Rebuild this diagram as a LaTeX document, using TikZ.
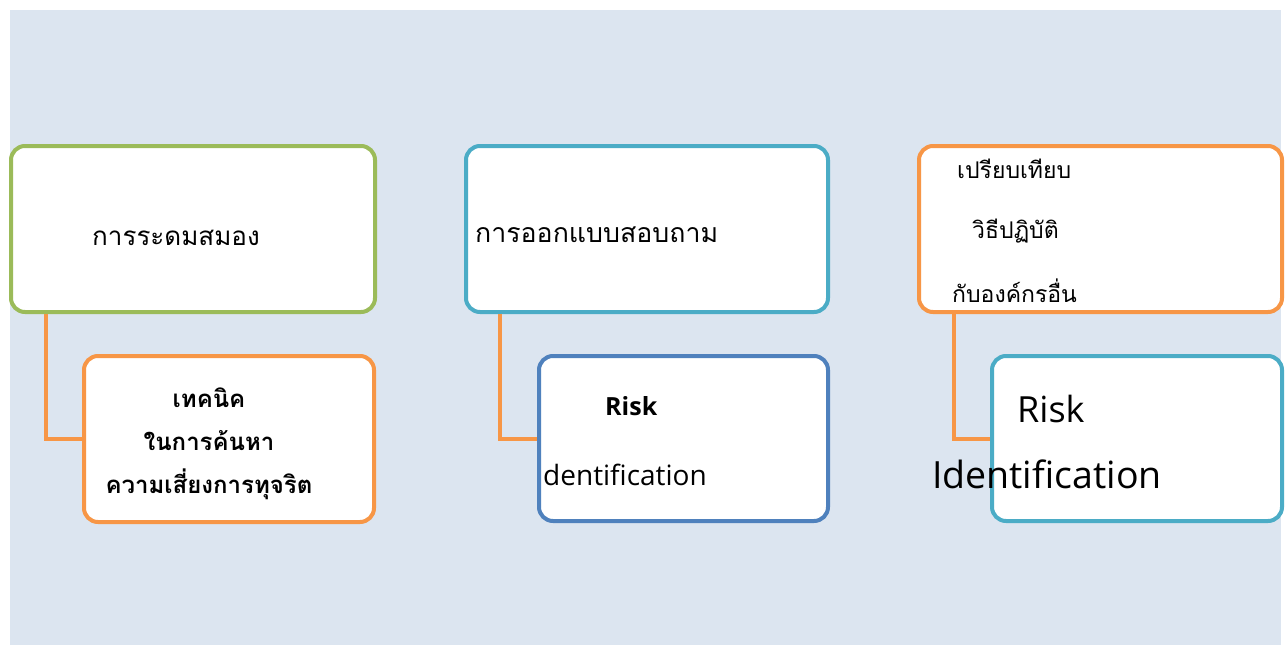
\documentclass[tikz,border=0pt]{standalone}
\usepackage{fontspec}
\setmainfont{Open Sans}
\newfontfamily\thaifont[Script=Thai]{Loma}
\usetikzlibrary{positioning}

\definecolor{bgblue}{HTML}{DCE5F0}
\definecolor{boxgreen}{HTML}{9BBB59}
\definecolor{boxteal}{HTML}{4BACC6}
\definecolor{boxorange}{HTML}{F79646}
\definecolor{boxblue}{HTML}{4F81BD}

\tikzset{
  box/.style={draw, fill=white, line width=4pt, rounded corners=14pt, anchor=north west, inner sep=0pt},
  link/.style={draw=boxorange, line width=4pt},
  label/.style={anchor=base west, inner sep=0pt},
  midlabel/.style={anchor=base, inner sep=0pt, font=\thaifont\bfseries\fontsize{24}{28}\selectfont},
}

\begin{document}
\begin{tikzpicture}[x=1pt, y=-1pt]

      \useasboundingbox (0,0) rectangle (1285,645);
      \fill[bgblue] (10,10) rectangle (1281,645);

      % boxes
      \node[box, draw=boxgreen, minimum width=364, minimum height=166] (brain) at (9,144) {};
      \node[box, draw=boxorange, minimum width=290, minimum height=166] (technique) at (82,354) {};
      \node[box, draw=boxteal, minimum width=362, minimum height=166] (survey) at (464,144) {};
      \node[box, draw=boxblue, minimum width=289, minimum height=165] (riskmid) at (537,354) {};
      \node[box, draw=boxorange, minimum width=363, minimum height=166] (compare) at (917,144) {};
      \node[box, draw=boxteal, minimum width=290, minimum height=165] (riskright) at (990,354) {};

      % links
      \draw[link] ([xshift=37pt]brain.south west) |- (technique.west);
      \draw[link] ([xshift=36pt]survey.south west) |- (riskmid.west);
      \draw[link] ([xshift=37pt]compare.south west) |- (riskright.west);

      % texts
      \node[label, font=\thaifont\fontsize{26}{30}\selectfont] (braintext) at (92,245) {การระดมสมอง};
      \node[midlabel] (tech1) at (209,407) {เทคนิค};
      \node[midlabel] (tech2) at (209,450) {ในการค้นหา};
      \node[midlabel] (tech3) at (209,493) {ความเสี่ยงการทุจริต};
      \node[label, font=\thaifont\fontsize{26.7}{30}\selectfont] (surveytext) at (475,242) {การออกแบบสอบถาม};
      \node[label, font=\bfseries\fontsize{25}{30}\selectfont] (risk1) at (605,415) {Risk};
      \node[label, font=\fontsize{28}{32}\selectfont] (ident1) at (543,485) {dentification};
      \node[label, font=\thaifont\fontsize{23}{26}\selectfont] (cmp1) at (957,178) {เปรียบเทียบ};
      \node[label, font=\thaifont\fontsize{23}{26}\selectfont] (cmp2) at (972,238) {วิธีปฏิบัติ};
      \node[label, font=\thaifont\fontsize{23}{26}\selectfont] (cmp3) at (952,302) {กับองค์กรอื่น};
      \node[label, font=\fontsize{36}{40}\selectfont] (risk2) at (1017,422) {Risk};
      \node[label, font=\fontsize{37.5}{42}\selectfont] (ident2) at (932,488) {Identification};
    \end{tikzpicture}
\end{document}
